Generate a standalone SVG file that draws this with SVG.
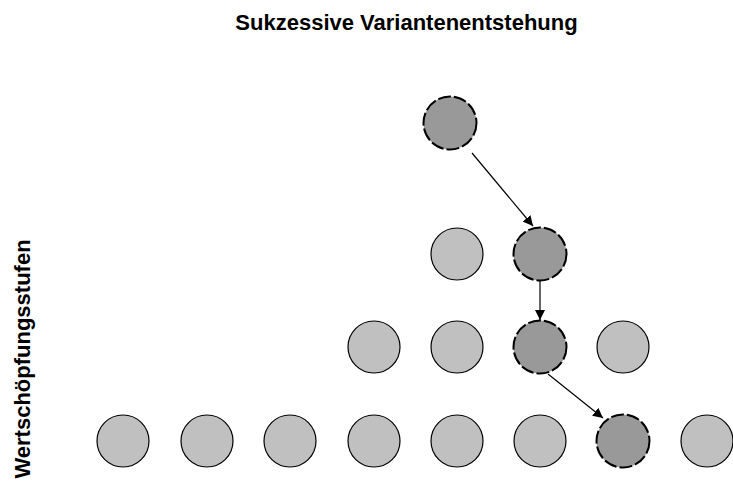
<svg xmlns="http://www.w3.org/2000/svg" width="733" height="481" viewBox="0 0 733 481">
<style>
.lbl{font-family:"Liberation Sans",Arial,sans-serif;font-weight:bold;font-size:22px;fill:#000}
.lt{fill:#c0c0c0;stroke:#000;stroke-width:1.2}
.dk{fill:#999999;stroke:#000;stroke-width:2;stroke-dasharray:13 3}
.cn{stroke:#000;stroke-width:1.2;fill:none;marker-end:url(#ah)}
</style>
<defs>
<marker id="ah" viewBox="0 0 10 10" refX="10" refY="5" markerWidth="10" markerHeight="10" markerUnits="userSpaceOnUse" orient="auto">
<path d="M0,0 L10,5 L0,10 z" fill="#000"/>
</marker>
</defs>
<rect width="733" height="481" fill="#fff"/>
<text class="lbl" x="406.5" y="30" text-anchor="middle">Sukzessive Variantenentstehung</text>
<text class="lbl" transform="translate(30,359) rotate(-90)" text-anchor="middle">Wertschöpfungsstufen</text>
<g id="n1"><circle class="dk" cx="450" cy="123" r="26.5"/></g>
<g id="n2a"><circle class="lt" cx="457" cy="254" r="26"/></g>
<g id="n2b"><circle class="dk" cx="540" cy="254" r="26.5"/></g>
<g id="n3a"><circle class="lt" cx="374" cy="347" r="26"/></g>
<g id="n3b"><circle class="lt" cx="457" cy="347" r="26"/></g>
<g id="n3c"><circle class="dk" cx="540" cy="347" r="26.5"/></g>
<g id="n3d"><circle class="lt" cx="623" cy="347" r="26"/></g>
<g id="n4a"><circle class="lt" cx="123" cy="441" r="26"/></g>
<g id="n4b"><circle class="lt" cx="207" cy="441" r="26"/></g>
<g id="n4c"><circle class="lt" cx="290" cy="441" r="26"/></g>
<g id="n4d"><circle class="lt" cx="374" cy="441" r="26"/></g>
<g id="n4e"><circle class="lt" cx="457" cy="441" r="26"/></g>
<g id="n4f"><circle class="lt" cx="540" cy="441" r="26"/></g>
<g id="n4g"><circle class="dk" cx="623" cy="441" r="26.5"/></g>
<g id="n4h"><circle class="lt" cx="707" cy="441" r="26"/></g>
<g id="connectors">
<line class="cn" x1="472" y1="153" x2="533" y2="226"/>
<line class="cn" x1="540" y1="280" x2="540" y2="320"/>
<line class="cn" x1="548" y1="374" x2="603" y2="418"/>
</g>
</svg>
